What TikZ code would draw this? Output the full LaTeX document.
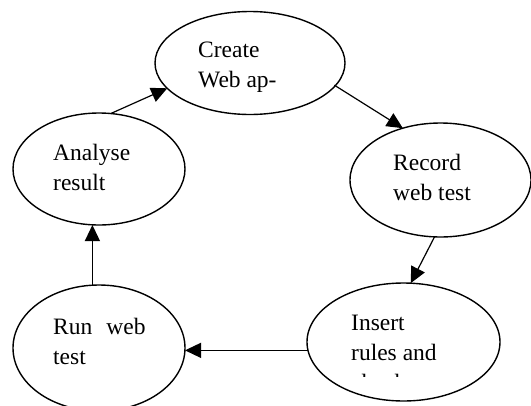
\documentclass[tikz,border=0pt]{standalone}
\usepackage{fontspec}
\setmainfont{Liberation Serif}
\usetikzlibrary{shapes.geometric,arrows.meta}
\begin{document}
\begin{tikzpicture}[x=1pt,y=-1pt,
  stage/.style={draw,ellipse,line width=1.4pt,inner sep=0pt,outer sep=0pt},
  words/.style={anchor=base west,inner sep=0pt,font=\fontsize{23.5}{30}\selectfont},
  flow/.style={line width=1.2pt,-{Triangle[length=16pt,width=15pt]}}]
\useasboundingbox (0,0) rectangle (531,405);

% process stages
\node[stage,minimum width=190pt,minimum height=103pt] (cw) at (250,63) {};
\node[stage,minimum width=181pt,minimum height=114pt] (rw) at (440.5,180) {};
\node[stage,minimum width=193pt,minimum height=118pt] (iw) at (403.5,342) {};
\node[stage,minimum width=172pt,minimum height=126pt] (rn) at (99,348) {};
\node[stage,minimum width=172pt,minimum height=112pt] (an) at (99,169) {};

% stage captions
\node[words] (cw1) at (198,57) {Create};
\node[words] (cw2) at (198,87) {Web ap-};
\node[words] (rw1) at (393,170.5) {Record};
\node[words] (rw2) at (393,200.5) {web test};
\node[words] (iw1) at (351,330.5) {Insert};
\node[words] (iw2) at (351,360.5) {rules and};
\begin{scope}
  \clip (340,370) rectangle (460,376.5);
  \node[words] (iw3) at (351,390.5) {checks};
\end{scope}
\node[words] (rn1) at (53,334) {Run\hspace{14pt}web};
\node[words] (rn2) at (53,364) {test};
\node[words] (an1) at (53,160.5) {Analyse};
\node[words] (an2) at (53,190.5) {result};

% cycle connectors
\draw[flow] (an.78) -- (cw.197);
\draw[flow] ([xshift=-3pt,yshift=-2pt]cw.-13) -- (rw.126);
\draw[flow] (rw.264.5) -- (iw.83.7);
\draw[flow] (iw.185) -- (iw.185 -| rn.east);
\draw[flow] (rn.96) -- (rn.96 |- an.south);
\end{tikzpicture}
\end{document}
